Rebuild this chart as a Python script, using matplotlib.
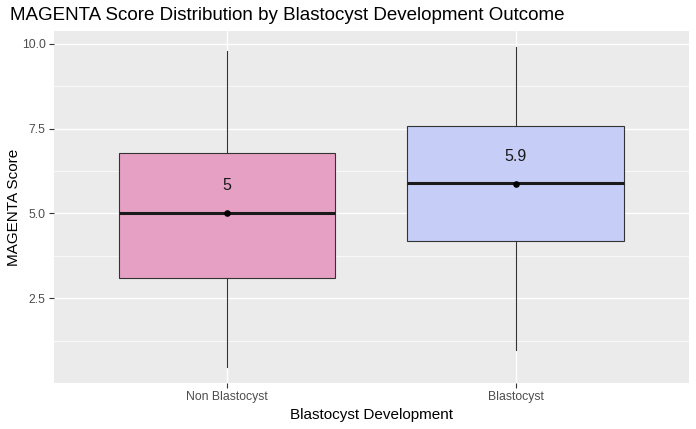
import matplotlib
matplotlib.use("Agg")
import matplotlib.pyplot as plt

plt.rcParams['font.family'] = ['Liberation Sans', 'DejaVu Sans']

# Values
groups = ["Non Blastocyst", "Blastocyst"]
whisker_low = [0.48, 0.97]
q1 = [3.09, 4.18]
medians = [5.0, 5.9]
q3 = [6.79, 7.58]
whisker_high = [9.8, 9.9]
means = [5.0, 5.86]
mean_labels = ["5", "5.9"]
fills = ["#E6A0C4", "#C6CDF7"]

fig = plt.figure(figsize=(6.96, 4.29), dpi=100)
ax = fig.add_axes([0.0776, 0.107, 0.912, 0.821])
ax.set_facecolor("#EBEBEB")

stats = []
for i, g in enumerate(groups):
    stats.append({
        "label": g, "whislo": whisker_low[i], "q1": q1[i], "med": medians[i],
        "q3": q3[i], "whishi": whisker_high[i], "fliers": [],
    })

positions = [1, 2]
bp = ax.bxp(stats, positions=positions, widths=0.75, patch_artist=True,
            showcaps=False, zorder=3,
            boxprops=dict(edgecolor="#333333", linewidth=0.8),
            whiskerprops=dict(color="#333333", linewidth=0.8),
            medianprops=dict(color="#1a1a1a", linewidth=2.2))
for patch, c in zip(bp["boxes"], fills):
    patch.set_facecolor(c)

ax.scatter(positions, means, s=14, color="black", zorder=5)
for x, m, lab in zip(positions, means, mean_labels):
    ax.text(x, m + 0.82, lab, ha="center", va="center", fontsize=11.5,
            color="#1a1a1a", zorder=6)

ax.set_xlim(0.4, 2.6)
ax.set_ylim(0.0, 10.38)
ax.set_yticks([2.5, 5.0, 7.5, 10.0])
ax.set_yticklabels(["2.5", "5.0", "7.5", "10.0"])
ax.set_yticks([1.25, 3.75, 6.25, 8.75], minor=True)
ax.set_xticks(positions)
ax.set_xticklabels(groups)

ax.grid(True, which="major", color="white", linewidth=1.0, zorder=0)
ax.grid(True, which="minor", axis="y", color="white", linewidth=0.5, zorder=0)
ax.set_axisbelow(True)
for s in ax.spines.values():
    s.set_visible(False)
ax.tick_params(axis="both", which="major", length=3.5, width=0.8, color="#333333",
               labelcolor="#4D4D4D", labelsize=8.8, pad=2.5)
ax.tick_params(axis="both", which="minor", length=0)

ax.set_xlabel("Blastocyst Development", fontsize=11, color="black", labelpad=3)
ax.set_ylabel("MAGENTA Score", fontsize=11, color="black")
ax.yaxis.set_label_coords(-0.052, 0.5)
fig.text(0.0144, 0.965, "MAGENTA Score Distribution by Blastocyst Development Outcome",
         fontsize=13.5, ha="left", va="center", color="black")

fig.savefig("out.png", dpi=100)
